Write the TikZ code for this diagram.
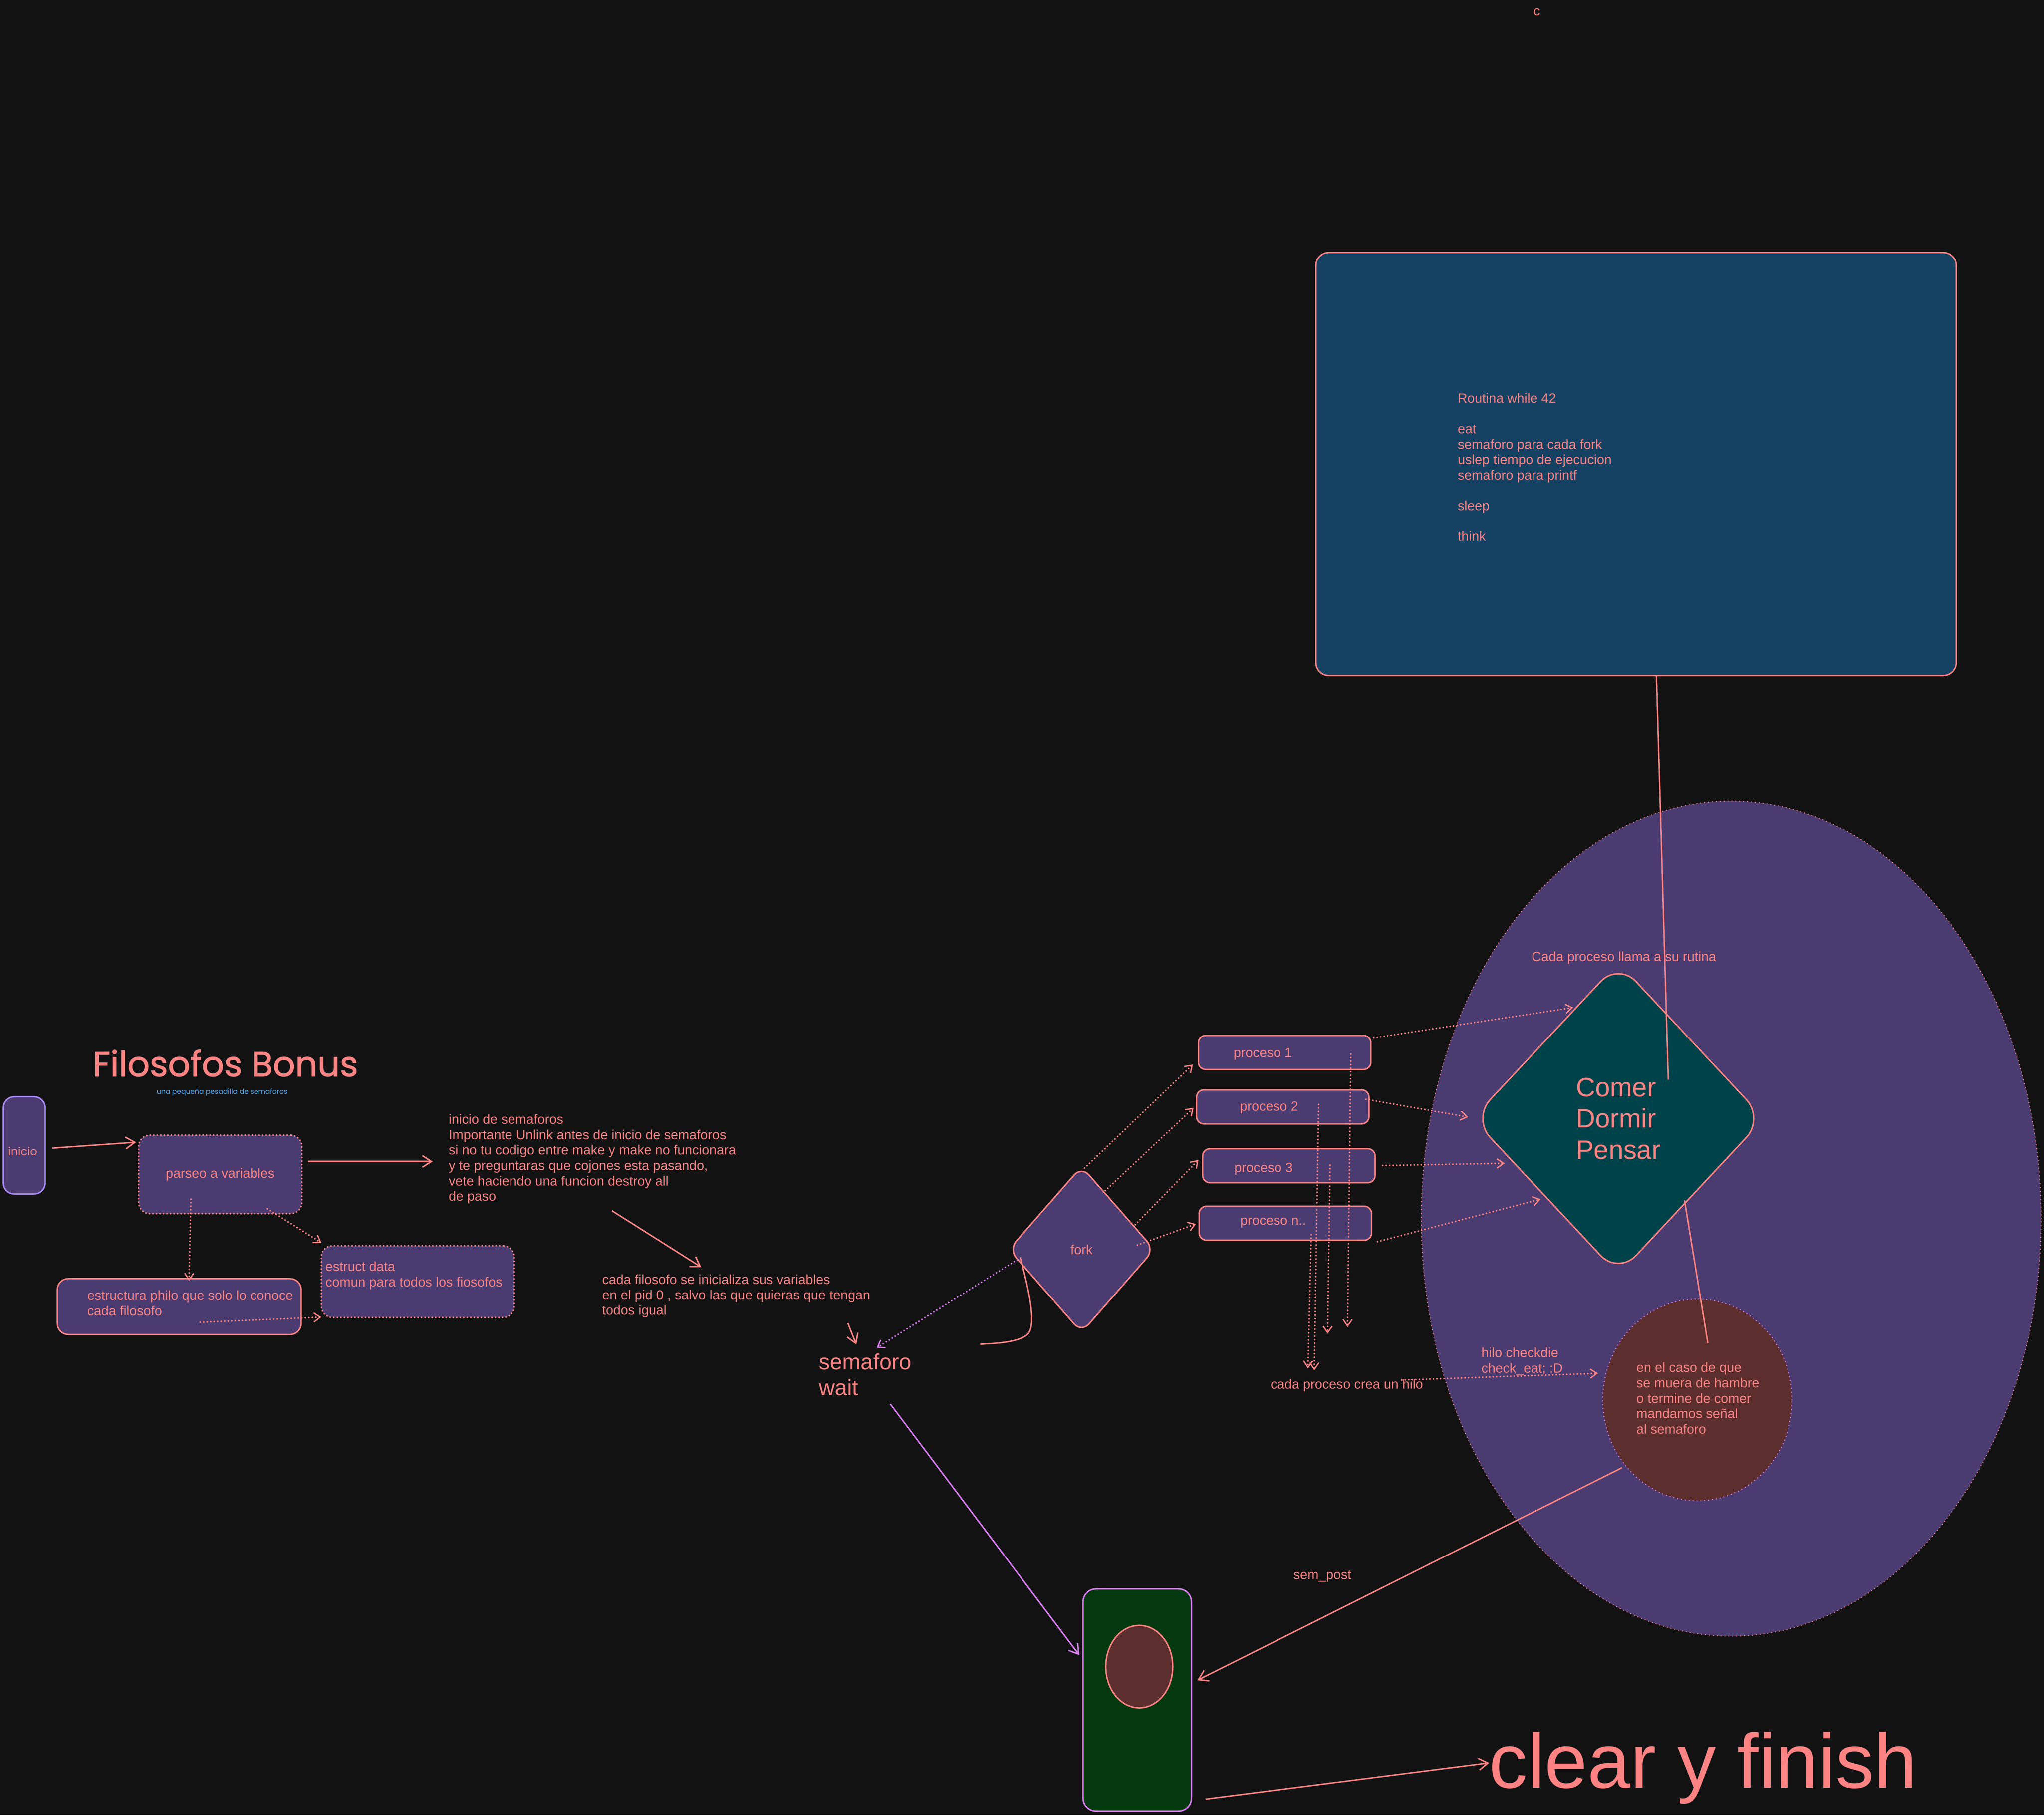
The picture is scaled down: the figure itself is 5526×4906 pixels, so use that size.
\documentclass[tikz,border=0pt]{standalone}
\usepackage{fontspec}
\setmainfont{Liberation Sans}
\newfontfamily\handfont{Poppins}
\newfontfamily\handbold{Poppins}[FakeBold=1.5]
\usetikzlibrary{shapes.geometric,arrows.meta}
\definecolor{bgc}{HTML}{121212}
\definecolor{coral}{HTML}{FF8383}
\definecolor{purp}{HTML}{4A3B70}
\definecolor{bluebox}{HTML}{154163}
\definecolor{tealc}{HTML}{00424A}
\definecolor{brownc}{HTML}{5C2E2E}
\definecolor{greenc}{HTML}{04380E}
\definecolor{violetc}{HTML}{D97BF2}
\definecolor{lavc}{HTML}{A98BFA}
\definecolor{subblue}{HTML}{4DABF7}
\newcommand\fsA{\fontsize{10.24pt}{11.81pt}\selectfont}
\newcommand\fsB{\fontsize{17.07pt}{19.63pt}\selectfont}
\newcommand\fsC{\fontsize{20.49pt}{24.04pt}\selectfont}
\newcommand\fsD{\fontsize{59.2pt}{70pt}\selectfont}
\begin{document}
\begin{tikzpicture}[x=0.01cm,y=-0.01cm,
  txt/.style={text=coral, font=\fsA, inner sep=0pt, outer sep=0pt, align=left},
  solidarr/.style={draw=coral, line width=1.1pt, -{Straight Barb[length=7pt,width=9pt]}},
  violarr/.style={draw=violetc, line width=1.1pt, -{Straight Barb[length=7pt,width=9pt]}},
  dotarr/.style={draw=coral, line width=1.3pt, dash pattern=on 0pt off 2.7pt, line cap=round, -{Straight Barb[length=5pt,width=7pt,line width=1pt]}},
  dotviol/.style={dotarr, draw=violetc},
  plainline/.style={draw=coral, line width=1.1pt},
  pbox/.style={rectangle, fill=purp, draw=coral, line width=1.1pt, inner sep=0pt},
  dotbox/.style={pbox, dash pattern=on 0pt off 2.7pt, line cap=round, line width=1.3pt},
  procbox/.style={pbox, rounded corners=0.2cm, minimum width=4.66cm, minimum height=0.92cm},
]
\fill[bgc] (0,0) rectangle (5526,4906);
\useasboundingbox (0,0) rectangle (5526,4906);

% top stray text
\node[txt] (ctxt) at (4155,33) {c};

% big ellipse
\node[ellipse, fill=purp, draw=coral, line width=1pt, dash pattern=on 0pt off 3pt, line cap=round, minimum width=16.74cm, minimum height=22.56cm, inner sep=0pt] (bigell) at (4680,3295) {};

% routine box
\node[rectangle, fill=bluebox, draw=coral, line width=1.1pt, rounded corners=0.35cm, minimum width=17.30cm, minimum height=11.43cm, inner sep=0pt] (routine) at (4423,1254.5) {};
\node[txt, anchor=north west] (routinetxt) at (3941,1063) {Routina while 42\\[11.81pt]eat\\semaforo para cada fork\\uslep tiempo de ejecucion\\semaforo para printf\\[11.81pt]sleep\\[11.81pt]think};

% title
\node[text=coral, font=\handbold\fontsize{26.8pt}{30pt}\selectfont, inner sep=0pt, anchor=base west] (title) at (250,2910) {Filosofos Bonus};
\node[text=subblue, font=\handfont\fontsize{5.35pt}{7pt}\selectfont, inner sep=0pt, anchor=base west] (subtitle) at (423,2958) {una pequeña pesadilla de semaforos};

% left column
\node[pbox, draw=lavc, rounded corners=0.3cm, minimum width=1.13cm, minimum height=2.63cm] (inicio) at (65.5,3096.5) {};
\node[text=coral, font=\handfont\fontsize{8.5pt}{10pt}\selectfont, inner sep=0pt] (iniciotxt) at (61.5,3113) {inicio};
\node[dotbox, rounded corners=0.3cm, minimum width=4.41cm, minimum height=2.12cm, text=coral, font=\fsA] (parseo) at (595.5,3175) {parseo a variables};
\node[pbox, rounded corners=0.3cm, minimum width=6.59cm, minimum height=1.51cm] (philo) at (484.5,3532.5) {};
\node[txt, anchor=north west] (philotxt) at (236,3489) {estructura philo que solo lo conoce\\cada filosofo};
\node[dotbox, rounded corners=0.3cm, minimum width=5.21cm, minimum height=1.94cm] (data) at (1129.5,3465) {};
\node[txt, anchor=north west] (datatxt) at (880,3411) {estruct data\\comun para todos los fiosofos};

% middle texts
\node[txt, anchor=north west] (semtxt) at (1213,3013) {inicio de semaforos\\Importante Unlink antes de inicio de semaforos\\si no tu codigo entre make y make no funcionara\\y te preguntaras que cojones esta pasando,\\vete haciendo una funcion destroy all\\de paso};
\node[txt, anchor=north west] (filotxt) at (1628,3446) {cada filosofo se inicializa sus variables\\en el pid 0 , salvo las que quieras que tengan\\todos igual};
\node[txt, font=\fsB, anchor=north west] (semwait) at (2214,3660) {semaforo\\wait};

% fork
\node[diamond, fill=purp, draw=coral, line width=1.1pt, rounded corners=0.3cm, minimum width=3.94cm, minimum height=4.5cm, inner sep=0pt, text=coral, font=\fsA] (fork) at (2924,3378) {fork};

% processes
\node[procbox] (p1) at (3473,2845.5) {};
\node[txt, anchor=west] (p1txt) at (3335,2850) {proceso 1};
\node[procbox] (p2) at (3468,2992.5) {};
\node[txt, anchor=west] (p2txt) at (3352,2995) {proceso 2};
\node[procbox] (p3) at (3484.5,3151.5) {};
\node[txt, anchor=west] (p3txt) at (3337,3160) {proceso 3};
\node[procbox] (pn) at (3475,3307) {};
\node[txt, anchor=west] (pntxt) at (3353,3306) {proceso n..};

\node[txt, anchor=west] (hilotxt) at (3435,3746) {cada proceso crea un hilo};

% comer diamond
\node[diamond, fill=tealc, draw=coral, line width=1.1pt, rounded corners=0.7cm, minimum width=7.89cm, minimum height=8.44cm, inner sep=0pt, text=coral, font=\fsC, align=left] (comer) at (4375,3024) {Comer\\Dormir\\Pensar};
\node[txt, anchor=west] (llamatxt) at (4141,2589) {Cada proceso llama a su rutina};

% check circle
\node[ellipse, fill=brownc, draw=violetc, line width=1.1pt, dash pattern=on 0pt off 3pt, line cap=round, minimum width=5.12cm, minimum height=5.45cm, inner sep=0pt] (check) at (4589,3785) {};
\node[txt, anchor=north west] (checktxt) at (4424,3684) {en el caso de que\\se muera de hambre\\o termine de comer\\mandamos señal\\al semaforo};
\node[txt, anchor=north west] (checkdie) at (4005,3644) {hilo checkdie\\check\_eat; :D};

% final box
\node[rectangle, fill=greenc, draw=violetc, line width=1.1pt, rounded corners=0.35cm, minimum width=2.93cm, minimum height=6cm, inner sep=0pt] (final) at (3074.5,4596) {};
\node[ellipse, fill=brownc, draw=coral, line width=1.1pt, minimum width=1.81cm, minimum height=2.23cm, inner sep=0pt] (finalcirc) at (3080,4506) {};
\node[txt, anchor=west] (sempost) at (3497,4262) {sem\_post};
\node[txt, font=\fsD, anchor=base west] (clear) at (4026,4834) {clear y finish};

% coordinates for connector ends
\coordinate (a1s) at (141,3104);  \coordinate (a1e) at (368,3088);
\coordinate (a2s) at (832,3140);  \coordinate (a2e) at (1170,3140);
\coordinate (a3s) at (516,3242);  \coordinate (a3e) at (511,3463);
\coordinate (a4s) at (723,3268);  \coordinate (a4e) at (869,3360);
\coordinate (a5s) at (541,3575);  \coordinate (a5e) at (869,3561);
\coordinate (a6s) at (1654,3273); \coordinate (a6e) at (1896,3426);
\coordinate (a7s) at (2292,3577); \coordinate (a7e) at (2315,3635);
\coordinate (a8s) at (2750,3406); \coordinate (a8e) at (2370,3644);
\coordinate (fcs) at (2758,3399); \coordinate (fce) at (2650,3634);
\coordinate (f1s) at (2932,3158); \coordinate (f1e) at (3225,2878);
\coordinate (f2s) at (2988,3219); \coordinate (f2e) at (3227,2995);
\coordinate (f3s) at (3069,3311); \coordinate (f3e) at (3240,3136);
\coordinate (f4s) at (3075,3366); \coordinate (f4e) at (3233,3309);
\coordinate (v1s) at (3652,2850); \coordinate (v1e) at (3643,3588);
\coordinate (v2s) at (3565,2986); \coordinate (v2e) at (3553,3705);
\coordinate (v3s) at (3596,3150); \coordinate (v3e) at (3589,3606);
\coordinate (v4s) at (3545,3338); \coordinate (v4e) at (3536,3700);
\coordinate (c1s) at (3714,2806); \coordinate (c1e) at (4253,2724);
\coordinate (c2s) at (3693,2972); \coordinate (c2e) at (3969,3020);
\coordinate (c3s) at (3738,3151); \coordinate (c3e) at (4068,3145);
\coordinate (c4s) at (3724,3357); \coordinate (c4e) at (4165,3242);
\coordinate (hs) at (3790,3731);  \coordinate (he) at (4320,3713);
\coordinate (rs) at (4478,1826);  \coordinate (re) at (4510,2919);
\coordinate (ks) at (4554,3245);  \coordinate (ke) at (4617,3631);
\coordinate (ps) at (4385,3968);  \coordinate (pe) at (3237,4543);
\coordinate (ws) at (2407,3796);  \coordinate (we) at (2918,4475);
\coordinate (gs) at (3259,4864);  \coordinate (ge) at (4026,4766);

% connectors
\draw[solidarr] (a1s) -- (a1e);
\draw[solidarr] (a2s) -- (a2e);
\draw[dotarr] (a3s) -- (a3e);
\draw[dotarr] (a4s) -- (a4e);
\draw[dotarr] (a5s) -- (a5e);
\draw[solidarr] (a6s) -- (a6e);
\draw[solidarr] (a7s) -- (a7e);
\draw[dotviol] (a8s) -- (a8e);
\draw[plainline] (fcs) .. controls (2785,3500) and (2800,3580) .. (2780,3605) .. controls (2760,3628) and (2700,3632) .. (fce);
\draw[dotarr] (f1s) -- (f1e);
\draw[dotarr] (f2s) -- (f2e);
\draw[dotarr] (f3s) -- (f3e);
\draw[dotarr] (f4s) -- (f4e);
\draw[dotarr] (v1s) -- (v1e);
\draw[dotarr] (v2s) -- (v2e);
\draw[dotarr] (v3s) -- (v3e);
\draw[dotarr] (v4s) -- (v4e);
\draw[dotarr] (c1s) -- (c1e);
\draw[dotarr] (c2s) -- (c2e);
\draw[dotarr] (c3s) -- (c3e);
\draw[dotarr] (c4s) -- (c4e);
\draw[dotarr] (hs) -- (he);
\draw[plainline] (rs) -- (re);
\draw[plainline] (ks) -- (ke);
\draw[solidarr] (ps) -- (pe);
\draw[violarr] (ws) -- (we);
\draw[solidarr] (gs) -- (ge);
\end{tikzpicture}
\end{document}
